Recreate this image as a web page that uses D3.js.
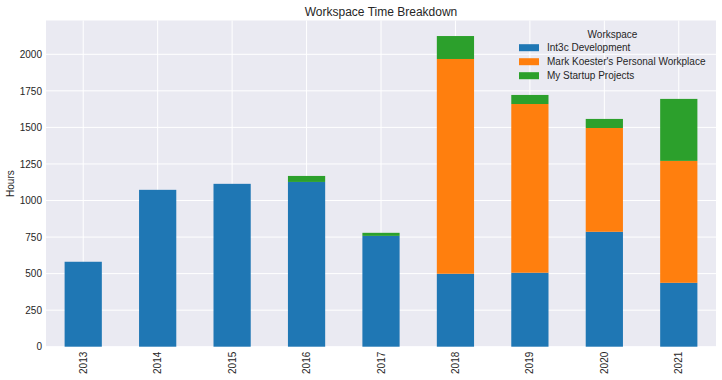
<!DOCTYPE html>
<html><head><meta charset="utf-8">
<script src="https://cdn.jsdelivr.net/npm/d3@7"></script>
<style>body{margin:0;background:#fff}svg{display:block}text{font-family:"Liberation Sans",Arial,sans-serif;fill:#262626}</style>
</head><body><svg id="c" width="722" height="380"></svg>
<script>
const years = ["2013","2014","2015","2016","2017","2018","2019","2020","2021"];
const seriesNames = ["Int3c Development","Mark Koester's Personal Workplace","My Startup Projects"];
const int3c   = [581,1073,1114,1127,758,499,506,786,437];
const koester = [0,0,0,0,0,1469,1154,710,834];
const startup = [0,0,0,41,21,157,62,62,424];
const yTicks = [0,250,500,750,1000,1250,1500,1750,2000];
const colors = ["#1f77b4","#ff7f0e","#2ca02c"];

const svg = d3.select("#c");
const m = {l:46, r:716, t:20.5, b:346.7};
const rows = years.map((y,i)=>({year:y,[seriesNames[0]]:int3c[i],[seriesNames[1]]:koester[i],[seriesNames[2]]:startup[i]}));
const stack = d3.stack().keys(seriesNames)(rows);
const maxV = d3.max(stack[stack.length-1], d=>d[1]);
const x = d3.scaleBand().domain(years).range([m.l,m.r]).paddingInner(0.5).paddingOuter(0.25);
const y = d3.scaleLinear().domain([0,maxV*1.05]).range([m.b,m.t]);

svg.append("rect").attr("x",m.l).attr("y",m.t).attr("width",m.r-m.l).attr("height",m.b-m.t).attr("fill","#eaeaf2");
// grid
svg.append("g").selectAll("line").data(yTicks).join("line")
  .attr("x1",m.l).attr("x2",m.r).attr("y1",d=>y(d)).attr("y2",d=>y(d)).attr("stroke","#fff").attr("stroke-width",1);
svg.append("g").selectAll("line").data(years).join("line")
  .attr("x1",d=>x(d)+x.bandwidth()/2).attr("x2",d=>x(d)+x.bandwidth()/2).attr("y1",m.t).attr("y2",m.b).attr("stroke","#fff").attr("stroke-width",1);
// bars
svg.append("g").selectAll("g").data(stack).join("g").attr("fill",(d,i)=>colors[i])
  .selectAll("rect").data(d=>d).join("rect")
  .attr("x",d=>x(d.data.year)).attr("width",x.bandwidth())
  .attr("y",d=>y(d[1])).attr("height",d=>Math.max(0,y(d[0])-y(d[1])));
// y axis
const ya = svg.append("g").attr("transform",`translate(${m.l},0)`).call(d3.axisLeft(y).tickValues(yTicks).tickFormat(d3.format("d")).tickSize(0).tickPadding(4));
ya.select(".domain").remove();
ya.selectAll("text").attr("font-size",10).attr("fill","#262626").style("font-family","Liberation Sans, Arial, sans-serif");
// x axis
const xa = svg.append("g").attr("transform",`translate(0,${m.b})`).call(d3.axisBottom(x).tickSize(0).tickPadding(0));
xa.select(".domain").remove();
xa.selectAll("text").attr("font-size",10).attr("fill","#262626").style("font-family","Liberation Sans, Arial, sans-serif")
  .attr("transform","rotate(-90)").attr("text-anchor","end").attr("x",-5).attr("y",0).attr("dy","0.35em");
// labels
svg.append("text").attr("x",(m.l+m.r)/2).attr("y",16).attr("text-anchor","middle").attr("font-size",12).text("Workspace Time Breakdown");
svg.append("text").attr("transform",`translate(14,${(m.t+m.b)/2}) rotate(-90)`).attr("text-anchor","middle").attr("font-size",10).text("Hours");
// legend
const lg = svg.append("g");
lg.append("text").attr("x",612.5).attr("y",37.5).attr("text-anchor","middle").attr("font-size",10).text("Workspace");
seriesNames.forEach((n,i)=>{
  const cy = 47.7 + i*14;
  lg.append("rect").attr("x",519).attr("y",cy-3.5).attr("width",20).attr("height",7).attr("fill",colors[i]);
  lg.append("text").attr("x",547).attr("y",cy).attr("dy","0.35em").attr("font-size",10).text(n);
});
</script></body></html>
